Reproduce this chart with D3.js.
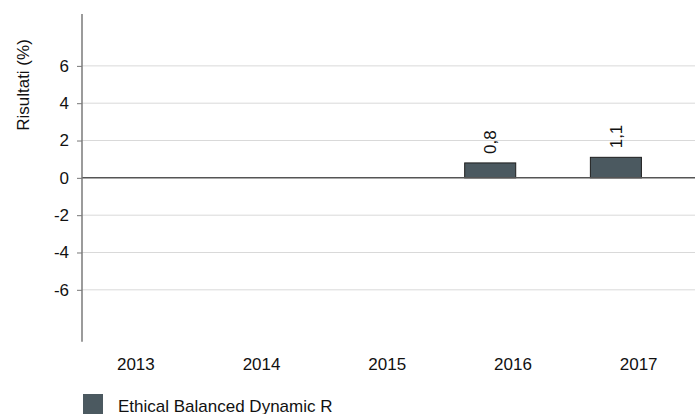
<!DOCTYPE html>
<html>
<head>
<meta charset="utf-8">
<script src="https://cdn.jsdelivr.net/npm/d3@7"></script>
<style>
  html, body { margin: 0; padding: 0; background: #fff; }
  svg { display: block; font-family: "Liberation Sans", Arial, sans-serif; }
</style>
</head>
<body>
<svg id="chart" width="695" height="414"></svg>
<script>
// Annual results of the fund, in percent
const years = ["2013", "2014", "2015", "2016", "2017"];
const values = [null, null, null, 0.8, 1.1];
const valueLabels = ["", "", "", "0,8", "1,1"];
const yTicks = [-6, -4, -2, 0, 2, 4, 6];
const seriesName = "Ethical Balanced Dynamic R";
const axisTitle = "Risultati (%)";

const plotLeft = 82, plotRight = 695, plotTop = 14, plotBottom = 341.7;
const barColor = "#4b5960";
const fontSize = "17px";

const svg = d3.select("#chart");

const x = d3.scaleBand().domain(years).range([73, 701.5]).padding(0);
const y = d3.scaleLinear().domain([-8.78, 8.78]).range([plotBottom, plotTop]);

// horizontal grid lines
svg.append("g")
  .selectAll("line")
  .data(yTicks.filter(d => d !== 0))
  .join("line")
  .attr("x1", plotLeft).attr("x2", plotRight)
  .attr("y1", d => y(d)).attr("y2", d => y(d))
  .attr("stroke", "#d9d9d9").attr("stroke-width", 1);

// y axis with tick labels
const yAxis = d3.axisLeft(y).tickValues(yTicks).tickSize(5).tickPadding(8)
  .tickFormat(d => String(d));
const gy = svg.append("g").attr("transform", `translate(${plotLeft},0)`).call(yAxis);
gy.select(".domain").remove();
gy.selectAll(".tick line").attr("stroke", "#777");
gy.selectAll(".tick text").attr("fill", "#111").style("font-size", fontSize)
  .style("font-family", "Liberation Sans, Arial, sans-serif");

const rows = years.map((yr, i) => ({ yr, v: values[i], label: valueLabels[i] }))
  .filter(d => d.v !== null);

// bars
const bw = x.bandwidth();
svg.append("g")
  .selectAll("rect")
  .data(rows)
  .join("rect")
  .attr("x", d => x(d.yr) + bw * 0.116)
  .attr("width", bw * 0.406)
  .attr("y", d => y(Math.max(0, d.v)))
  .attr("height", d => Math.abs(y(d.v) - y(0)))
  .attr("fill", barColor)
  .attr("stroke", "#1e1e1e").attr("stroke-width", 1);

// value labels, rotated above each bar
svg.append("g")
  .selectAll("text")
  .data(rows)
  .join("text")
  .attr("transform", d => `translate(${x(d.yr) + bw * 0.319 + 6},${y(d.v) - 9}) rotate(-90)`)
  .attr("text-anchor", "start")
  .attr("fill", "#111")
  .style("font-size", fontSize)
  .text(d => d.label);

// zero line
svg.append("line")
  .attr("x1", plotLeft).attr("x2", plotRight)
  .attr("y1", y(0)).attr("y2", y(0))
  .attr("stroke", "#555").attr("stroke-width", 1.5);

// vertical axis line
svg.append("line")
  .attr("x1", plotLeft).attr("x2", plotLeft)
  .attr("y1", plotTop).attr("y2", plotBottom)
  .attr("stroke", "#7a7a7a").attr("stroke-width", 1.5);

// category labels
svg.append("g")
  .selectAll("text")
  .data(years)
  .join("text")
  .attr("x", d => x(d) + bw / 2)
  .attr("y", 370)
  .attr("text-anchor", "middle")
  .attr("fill", "#111")
  .style("font-size", fontSize)
  .text(d => d);

// axis title
svg.append("text")
  .attr("transform", `translate(29,85) rotate(-90)`)
  .attr("text-anchor", "middle")
  .attr("fill", "#111")
  .style("font-size", fontSize)
  .text(axisTitle);

// legend
const lg = svg.append("g").attr("transform", "translate(83,394)");
lg.append("rect").attr("width", 20).attr("height", 20).attr("fill", barColor);
lg.append("text").attr("x", 35).attr("y", 17.5)
  .attr("fill", "#111").style("font-size", fontSize).text(seriesName);
</script>
</body>
</html>
